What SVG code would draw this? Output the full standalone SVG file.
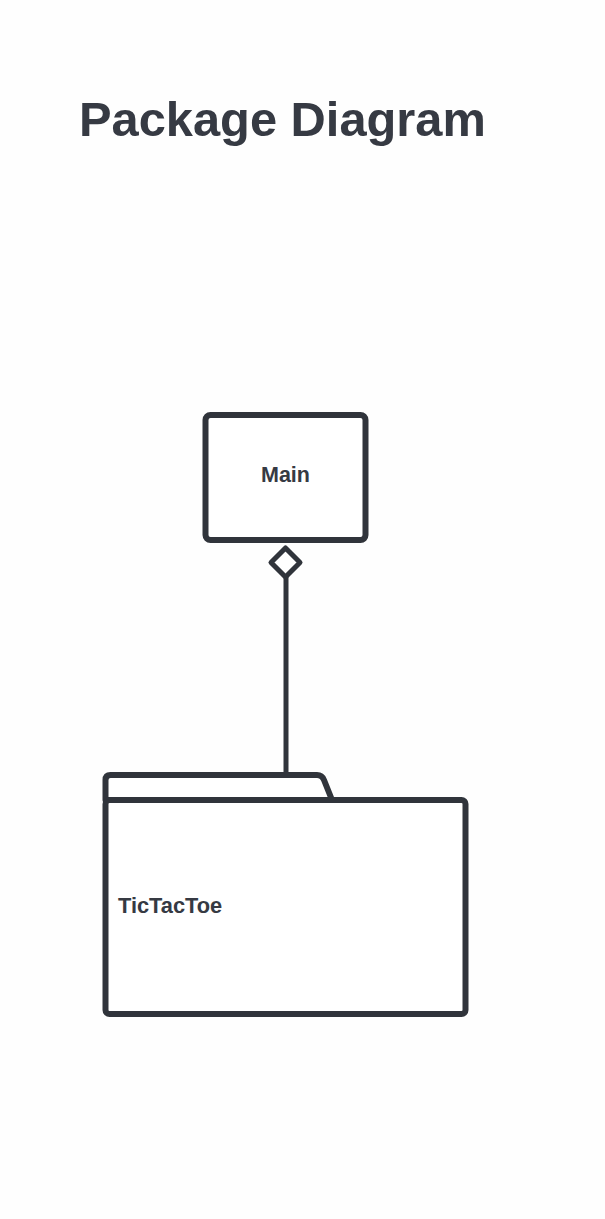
<svg xmlns="http://www.w3.org/2000/svg" width="605" height="1219" viewBox="0 0 605 1219">
<style>
.t{font-family:"Liberation Sans",Arial,sans-serif;font-weight:bold;fill:#363a43}
.s{fill:#fff;stroke:#30343b;stroke-linejoin:round}
</style>
<rect width="605" height="1219" fill="#fefefe"/>
<text class="t" x="79" y="136" font-size="48.8">Package Diagram</text>
<g id="connectors">
<line x1="286" y1="576" x2="286" y2="773" stroke="#30343b" stroke-width="5"/>
<polygon class="s" points="285.5,548 300,562.5 285.5,577 271,562.5" stroke-width="5"/>
</g>
<g id="main">
<rect class="s" x="205.5" y="415" width="160" height="125" rx="5" stroke-width="6"/>
<text class="t" x="285.5" y="482" font-size="21.5" text-anchor="middle">Main</text>
</g>
<g id="tictactoe">
<path class="s" d="M105.5,800 V780 Q105.5,775 110.5,775 H317 Q322,775 324,780 L332,800 Z" stroke-width="6"/>
<rect class="s" x="105.5" y="800" width="360" height="214" rx="4" stroke-width="6"/>
<text class="t" x="118" y="913" font-size="21.8">TicTacToe</text>
</g>
</svg>
